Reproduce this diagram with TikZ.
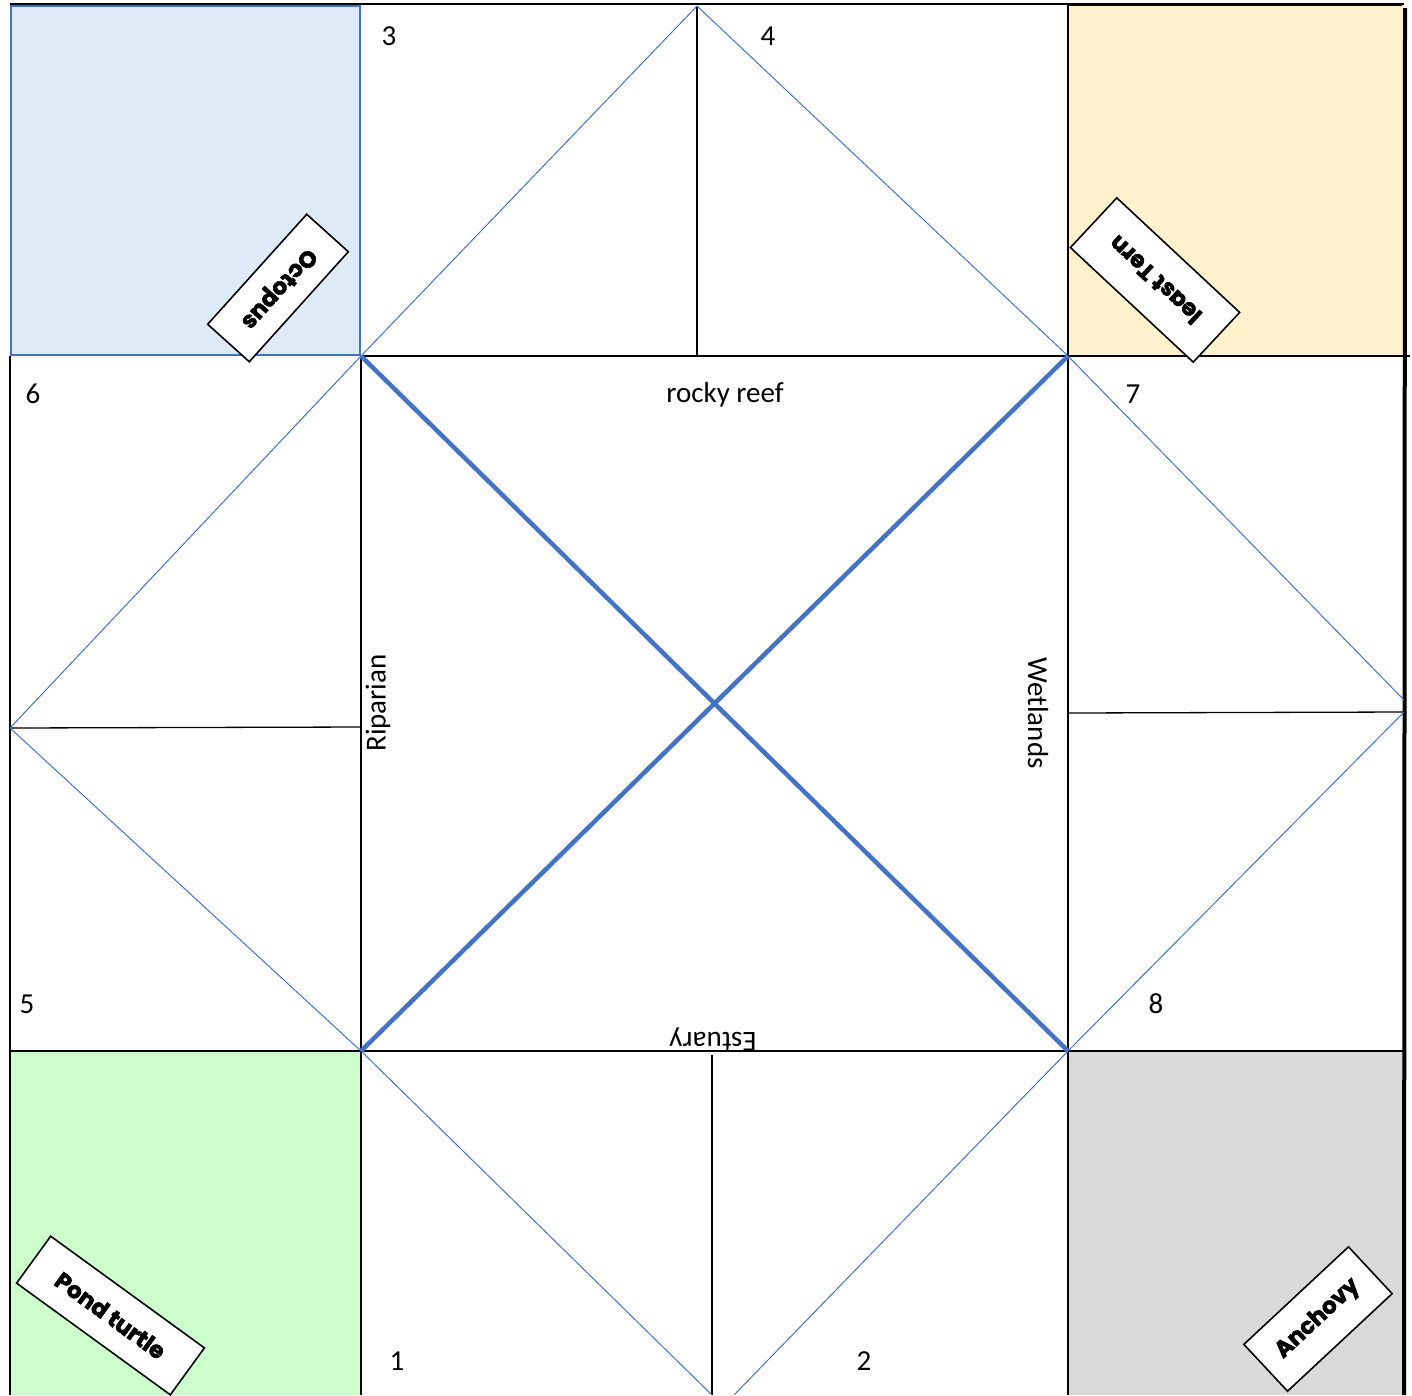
\documentclass[tikz,border=0pt]{standalone}
\usepackage{fontspec}
\setmainfont{Carlito}
\newfontfamily\labfont{Poppins}[FakeBold=2.5]
\definecolor{bline}{HTML}{4472C4}
\definecolor{bfill}{HTML}{DEEBF7}
\definecolor{yfill}{HTML}{FFF2CC}
\definecolor{gfill}{HTML}{CCFFCC}
\definecolor{kfill}{HTML}{D9D9D9}
\begin{document}
\begin{tikzpicture}[x=1pt,y=-1pt,
  fold/.style={line width=1.3pt,black},
  thinblue/.style={line width=1pt,bline},
  thickblue/.style={line width=4.5pt,bline},
  numlab/.style={font=\fontsize{29}{34}\selectfont,inner sep=0pt},
  hablab/.style={font=\fontsize{29}{34}\selectfont,inner sep=0pt},
  tagbox/.style={draw,fill=white,line width=1.6pt,inner sep=0pt,
    font=\labfont\bfseries\fontsize{23}{27}\selectfont}]
\useasboundingbox (0,0) rectangle (1412,1395);
% grid coordinates
\coordinate (TL) at (10,4);
\coordinate (TR) at (1404,4);
\coordinate (BL) at (10,1395);
\coordinate (BR) at (1404,1395);
\coordinate (A) at (361,356);
\coordinate (B) at (1068,356);
\coordinate (C) at (1068,1051);
\coordinate (D) at (361,1051);
\coordinate (topM) at (697,6);
\coordinate (topMb) at (697,356);
\coordinate (leftM) at (10,728);
\coordinate (leftMb) at (361,727);
\coordinate (rightMa) at (1404,700);
\coordinate (rightMb) at (1404,712);
\coordinate (rightMc) at (1068,713);
\coordinate (botMa) at (712,1055);
\coordinate (botMb) at (712,1395);
\coordinate (botL) at (712,1395);
\coordinate (botR) at (734,1395);
\coordinate (x356R) at (1410,356);
\coordinate (x1051L) at (10,1051);
\coordinate (x1051R) at (1404,1051);
\coordinate (xB) at (1068,4);
\coordinate (xD) at (361,1395);
\coordinate (xC) at (1068,1395);
\coordinate (L356) at (10,356);
\coordinate (R8) at (1405,8);
\coordinate (Ytl) at (1068,5);
\coordinate (Ytr) at (1402,5);
% coloured squares
\fill[bfill] (11,6) rectangle (360,355);
\fill[yfill] (1068,5) rectangle (1403,356);
\fill[gfill] (10,1051) rectangle (361,1395);
\fill[kfill] (1068,1051) rectangle (1404,1395);
% fold lines (black)
\draw[fold] (A) -- (B);
\draw[fold] (x1051L) -- (x1051R);
\draw[fold] (B) -- (x356R);
\draw[fold] (A) -- (D) -- (xD);
\draw[fold] (xB) -- (xC);
\draw[fold] (topM) -- (topMb);
\draw[fold] (leftM) -- (leftMb);
\draw[fold] (rightMc) -- (rightMb);
\draw[fold] (botMa) -- (botMb);
\draw[line width=2.5pt] (TL) -- (TR);
\draw[line width=2.5pt] (L356) -- (BL);
\draw[line width=4pt] (R8) -- (BR);
\draw[line width=1.6pt] (Ytl) -- (Ytr);
% blue square border
\draw[line width=2pt,bline] (11,6) rectangle (360,355);
% thin blue diamonds
\draw[thinblue] (A) -- (topM) -- (B);
\draw[thinblue] (A) -- (leftM) -- (D);
\draw[thinblue] (B) -- (rightMa);
\draw[thinblue] (rightMb) -- (C);
\draw[thinblue] (D) -- (botL);
\draw[thinblue] (C) -- (botR);
% thick blue X
\draw[thickblue] (A) -- (C);
\draw[thickblue] (B) -- (D);
% numbers
\node[numlab] (n3) at (389,36) {3};
\node[numlab] (n4) at (768,36) {4};
\node[numlab] (n6) at (33,394) {6};
\node[numlab] (n7) at (1133,394) {7};
\node[numlab] (n5) at (27,1004) {5};
\node[numlab] (n8) at (1156,1004) {8};
\node[numlab] (n1) at (397,1361) {1};
\node[numlab] (n2) at (864,1361) {2};
% habitat labels
\node[hablab] (reef) at (725,395) {rocky reef};
\node[hablab,rotate=90] (rip) at (378,703) {Riparian};
\node[hablab,rotate=-90] (wet) at (1038,713) {Wetlands};
\node[hablab,rotate=180] (est) at (713,1039) {Estuary};
% animal tags
\node[tagbox,rotate=228,minimum width=148pt,minimum height=56pt] (oct) at (278,288) {Octopus};
\node[tagbox,rotate=137,minimum width=168pt,minimum height=68pt] (tern) at (1155,280) {least Tern};
\node[tagbox,rotate=-36,minimum width=190pt,minimum height=58pt] (turtle) at (110.5,1315.5) {Pond turtle};
\node[tagbox,rotate=43,minimum width=143pt,minimum height=64pt] (anch) at (1318,1319) {Anchovy};
\end{tikzpicture}
\end{document}
